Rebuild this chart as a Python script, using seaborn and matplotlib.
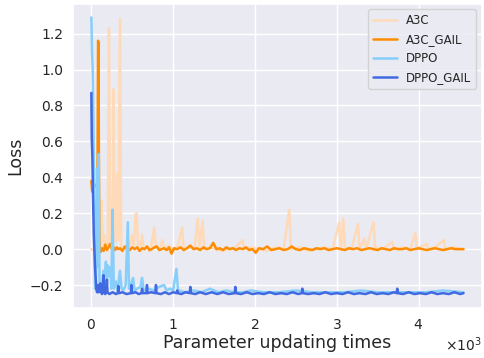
import pandas as pd
import seaborn as sns
import matplotlib
matplotlib.use('Agg')
import matplotlib.pyplot as plt

# values (steps, loss)
a3c_x = [
    0, 30, 60, 90, 110, 125, 140, 160, 180, 200,
    215, 230, 250, 262, 270, 285, 300, 315, 330, 350,
    365, 390, 420, 450, 500, 520, 540, 555, 570, 600,
    620, 640, 680, 720, 770, 790, 830, 870, 890, 950,
    1000, 1050, 1110, 1130, 1200, 1260, 1300, 1320, 1360, 1380,
    1450, 1520, 1600, 1680, 1760, 1850, 1870, 1950, 2050, 2150,
    2250, 2350, 2420, 2440, 2550, 2650, 2750, 2850, 2950, 3030,
    3050, 3080, 3100, 3180, 3260, 3280, 3340, 3360, 3450, 3470,
    3560, 3680, 3700, 3800, 3900, 3960, 3980, 4100, 4120, 4200,
    4310, 4330, 4420, 4550,
]
a3c_y = [
    0.00, -0.01, 0.02, 0.01, 0.05, 0.27, 0.02, 0.08, 0.00, 0.03,
    1.23, 0.05, 0.28, 0.02, 0.89, 0.10, 0.04, 0.42, 0.05, 1.28,
    0.02, 0.00, 0.01, -0.01, 0.08, 0.02, 0.19, 0.20, 0.01, 0.02,
    0.08, 0.00, 0.01, -0.01, 0.12, 0.01, 0.00, 0.05, 0.00, 0.02,
    -0.01, 0.01, 0.12, 0.00, 0.01, 0.00, 0.17, 0.01, 0.16, 0.00,
    0.01, 0.00, -0.01, 0.00, 0.01, 0.05, 0.00, 0.01, 0.00, -0.01,
    0.01, 0.00, 0.22, 0.00, 0.01, -0.01, 0.00, 0.01, 0.00, 0.15,
    0.00, 0.17, 0.01, 0.00, 0.14, 0.00, 0.06, 0.00, 0.15, 0.01,
    0.00, 0.04, 0.00, 0.01, 0.00, 0.09, 0.00, 0.03, 0.00, 0.01,
    0.05, 0.00, 0.01, 0.00,
]

a3c_gail_x = [
    0, 10, 40, 75, 82, 88, 92, 98, 105, 115,
    130, 150, 170, 190, 210, 230, 250, 270, 290, 310,
    330, 350, 380, 410, 440, 470, 500, 530, 560, 590,
    620, 650, 680, 710, 740, 770, 800, 830, 860, 890,
    920, 950, 980, 1010, 1050, 1090, 1130, 1170, 1210, 1250,
    1290, 1330, 1370, 1410, 1450, 1490, 1530, 1570, 1610, 1650,
    1690, 1730, 1770, 1810, 1850, 1890, 1930, 1970, 2010, 2050,
    2100, 2150, 2200, 2250, 2300, 2350, 2400, 2450, 2500, 2550,
    2600, 2650, 2700, 2750, 2800, 2850, 2900, 2950, 3000, 3050,
    3100, 3150, 3200, 3250, 3300, 3350, 3400, 3450, 3500, 3550,
    3600, 3650, 3700, 3750, 3800, 3850, 3900, 3950, 4000, 4050,
    4100, 4150, 4200, 4250, 4300, 4350, 4400, 4450, 4500, 4550,
]
a3c_gail_y = [
    0.38, 0.32, 0.36, 0.34, 1.16, 1.15, 0.52, 0.06, 0.00, -0.015,
    0.005, -0.01, 0.025, -0.005, 0.01, 0.03, 0.00, 0.01, -0.005, 0.01,
    0.00, 0.005, -0.01, 0.015, 0.00, -0.005, 0.01, 0.00, 0.01, -0.01,
    0.005, 0.00, 0.015, -0.005, 0.00, 0.01, 0.015, -0.005, 0.00, 0.005,
    -0.005, 0.01, -0.025, 0.005, 0.00, 0.01, -0.005, 0.005, 0.02, 0.00,
    0.005, -0.005, 0.01, 0.00, 0.005, 0.035, 0.00, 0.005, -0.005, 0.01,
    0.00, 0.005, -0.005, 0.005, 0.00, 0.01, -0.005, 0.00, -0.02, 0.005,
    0.00, 0.015, -0.005, 0.00, 0.005, -0.005, 0.00, 0.015, 0.00, -0.005,
    0.005, 0.00, -0.005, 0.005, 0.00, 0.005, -0.005, 0.00, 0.005, 0.00,
    -0.005, 0.005, 0.00, 0.005, -0.005, 0.00, 0.005, 0.00, -0.005, 0.005,
    0.00, -0.005, 0.005, 0.00, 0.00, 0.005, -0.005, 0.00, 0.005, 0.00,
    -0.005, 0.00, 0.005, 0.00, -0.005, 0.00, 0.005, 0.00, 0.00, 0.00,
]

dppo_x = [
    0, 8, 16, 25, 35, 45, 55, 70, 80, 90,
    100, 120, 150, 165, 178, 190, 200, 215, 230, 245,
    259, 275, 300, 320, 350, 370, 390, 420, 446, 460,
    480, 510, 530, 560, 600, 620, 640, 700, 760, 830,
    890, 920, 960, 1000, 1040, 1060, 1150, 1250, 1350, 1450,
    1550, 1650, 1750, 1850, 1950, 2100, 2300, 2500, 2700, 2900,
    3100, 3300, 3500, 3700, 3900, 4100, 4300, 4550,
]
dppo_y = [
    1.29, 1.10, 1.00, 0.70, 0.20, -0.22, -0.20, 0.45, -0.10, 0.53,
    -0.20, -0.22, -0.12, -0.15, -0.07, -0.20, -0.09, -0.15, -0.10, -0.22,
    0.22, -0.22, -0.18, -0.23, -0.12, -0.22, -0.23, -0.20, 0.15, -0.22,
    -0.20, -0.16, -0.23, -0.22, -0.21, -0.16, -0.23, -0.22, -0.23, -0.21,
    -0.20, -0.23, -0.22, -0.23, -0.11, -0.23, -0.24, -0.23, -0.24, -0.22,
    -0.24, -0.23, -0.24, -0.24, -0.23, -0.24, -0.24, -0.23, -0.24, -0.24,
    -0.24, -0.23, -0.24, -0.24, -0.24, -0.24, -0.23, -0.24,
]

dppo_gail_x = [
    0, 5, 12, 20, 30, 45, 60, 70, 80, 90,
    100, 110, 120, 130, 143, 150, 157, 170, 183, 190,
    197, 220, 260, 300, 323, 330, 337, 380, 430, 483,
    490, 497, 540, 580, 613, 620, 627, 673, 680, 687,
    730, 783, 790, 797, 850, 900, 950, 1000, 1043, 1050,
    1057, 1100, 1150, 1203, 1210, 1217, 1270, 1330, 1400, 1470,
    1540, 1610, 1680, 1753, 1760, 1767, 1830, 1900, 1970, 2040,
    2110, 2180, 2250, 2320, 2390, 2460, 2530, 2573, 2580, 2587,
    2650, 2720, 2790, 2860, 2930, 3000, 3070, 3140, 3210, 3280,
    3350, 3420, 3490, 3560, 3630, 3700, 3733, 3740, 3747, 3810,
    3880, 3950, 4020, 4090, 4160, 4230, 4300, 4370, 4440, 4510,
    4550,
]
dppo_gail_y = [
    0.87, 0.62, 0.52, 0.30, 0.08, -0.10, -0.22, -0.24, -0.20, -0.24,
    -0.23, -0.19, -0.24, -0.25, -0.24, -0.145, -0.24, -0.25, -0.24, -0.17,
    -0.24, -0.25, -0.24, -0.25, -0.245, -0.205, -0.245, -0.24, -0.25, -0.245,
    -0.20, -0.245, -0.24, -0.25, -0.245, -0.22, -0.245, -0.245, -0.20, -0.245,
    -0.24, -0.245, -0.20, -0.245, -0.25, -0.24, -0.25, -0.24, -0.245, -0.23,
    -0.245, -0.25, -0.24, -0.245, -0.21, -0.245, -0.25, -0.24, -0.25, -0.24,
    -0.25, -0.24, -0.25, -0.245, -0.21, -0.245, -0.25, -0.24, -0.25, -0.245,
    -0.25, -0.24, -0.25, -0.245, -0.25, -0.24, -0.25, -0.245, -0.22, -0.245,
    -0.25, -0.245, -0.25, -0.24, -0.25, -0.245, -0.25, -0.24, -0.25, -0.245,
    -0.25, -0.24, -0.25, -0.245, -0.25, -0.24, -0.245, -0.22, -0.245, -0.25,
    -0.24, -0.25, -0.245, -0.25, -0.24, -0.25, -0.245, -0.25, -0.24, -0.25,
    -0.245,
]

methods = ['A3C', 'A3C_GAIL', 'DPPO', 'DPPO_GAIL']
colors = ['peachpuff', 'darkorange', 'lightskyblue', 'royalblue']


if __name__ == '__main__':
    # build one long table for seaborn
    frames = []
    for name, xs, ys in zip(methods,
                            [a3c_x, a3c_gail_x, dppo_x, dppo_gail_x],
                            [a3c_y, a3c_gail_y, dppo_y, dppo_gail_y]):
        frames.append(pd.DataFrame({'step': xs, 'loss': ys, 'method': name}))
    data = pd.concat(frames, ignore_index=True)

    sns.set_theme(style='darkgrid')
    fig, ax = plt.subplots(figsize=(4.85, 3.58), dpi=100)
    sns.lineplot(data=data, x='step', y='loss', hue='method', hue_order=methods,
                 palette=dict(zip(methods, colors)), estimator=None, sort=False,
                 linewidth=1.8, ax=ax)

    ax.ticklabel_format(axis='x', style='sci', scilimits=(0, 0), useMathText=True)
    ax.xaxis.get_offset_text().set_fontsize(10)
    ax.set_yticks([-0.2, 0.0, 0.2, 0.4, 0.6, 0.8, 1.0, 1.2])
    ax.tick_params(labelsize=10, length=0, pad=7)
    ax.set_xlabel('Parameter updating times', fontsize=12.5, labelpad=2)
    ax.set_ylabel('Loss', fontsize=12.5)
    ax.legend(loc='upper right', fontsize=8.5, title=None)

    plt.subplots_adjust(left=0.15, right=0.994, top=0.99, bottom=0.14)
    plt.savefig('out.png')
